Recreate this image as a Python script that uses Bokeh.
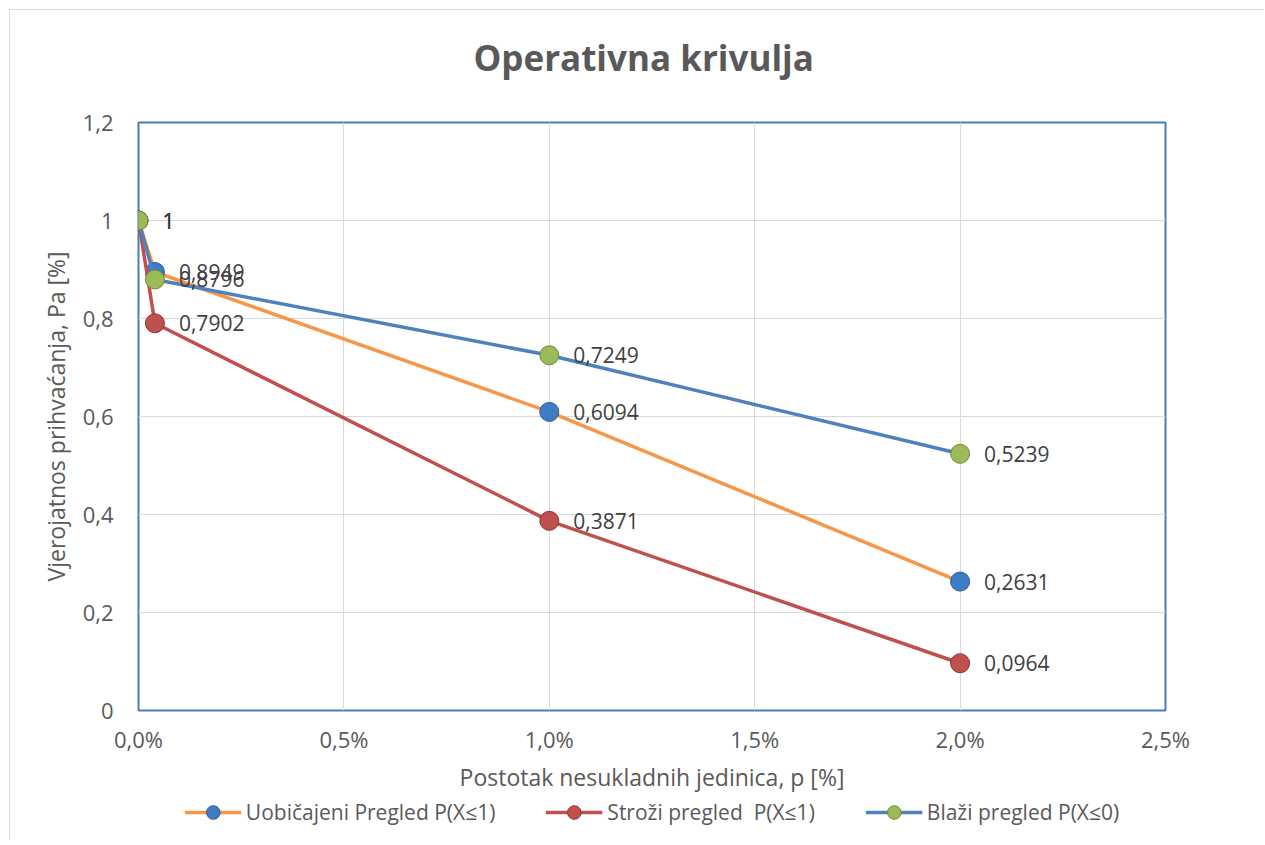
from bokeh.plotting import figure
from bokeh.layouts import column
from bokeh.models import (ColumnDataSource, CustomJSTickFormatter, FixedTicker,
                          Legend, LegendItem, Range1d, Label)
from bokeh.core.properties import value
from bokeh.embed import file_html
from bokeh.resources import INLINE

# ---- data ----
p_values = [0.0, 0.0004, 0.01, 0.02]          # fraction nonconforming
uobicajeni = [1.0, 0.8949, 0.6094, 0.2631]    # Uobičajeni Pregled P(X≤1)
strozi = [1.0, 0.7902, 0.3871, 0.0964]        # Stroži pregled P(X≤1)
blazi = [1.0, 0.8796, 0.7249, 0.5239]         # Blaži pregled P(X≤0)
series_names = ["Uobičajeni Pregled P(X≤1)", "Stroži pregled  P(X≤1)", "Blaži pregled P(X≤0)"]
x_ticks = [0.0, 0.005, 0.01, 0.015, 0.02, 0.025]
y_ticks = [0.0, 0.2, 0.4, 0.6, 0.8, 1.0, 1.2]
title_text = "Operativna krivulja"

FONT = "Open Sans"
TXT = "#595959"

def fmt(v):
    return "1" if v == 1.0 else f"{v:.4f}".replace(".", ",")

W = 1254

def strip(h, left=0):
    f = figure(width=W, height=h, output_backend="svg", toolbar_location=None,
               x_range=Range1d(0, W), y_range=Range1d(0, h),
               min_border_left=left, min_border_right=0, min_border_top=0,
               min_border_bottom=0)
    f.axis.visible = False
    f.grid.visible = False
    f.outline_line_color = None
    return f

# ---- title strip ----
p0 = strip(80)
p0.add_layout(Label(x=409, y=33, text=title_text, text_font=FONT,
                    text_font_size="35px", text_font_style="bold",
                    text_color=TXT, text_baseline="middle", text_align="left"))

# ---- main chart ----
p = figure(width=W, height=705, output_backend="svg", toolbar_location=None,
           x_range=Range1d(0, 0.025), y_range=Range1d(0, 1.2),
           min_border_left=128, min_border_right=99, min_border_top=32,
           min_border_bottom=85)

p.outline_line_color = "#4a7ebb"
p.outline_line_width = 2
p.outline_line_alpha = 1.0

p.grid.grid_line_color = "#d9d9d9"
p.grid.grid_line_width = 1
p.xaxis.ticker = FixedTicker(ticks=x_ticks)
p.yaxis.ticker = FixedTicker(ticks=y_ticks)
p.xaxis.formatter = CustomJSTickFormatter(
    code="return (tick*100).toFixed(1).replace('.', ',') + '%';")
p.yaxis.formatter = CustomJSTickFormatter(
    code="return parseFloat(tick.toFixed(1)).toString().replace('.', ',');")

for ax in (p.xaxis, p.yaxis):
    ax.axis_line_color = None
    ax.major_tick_line_color = None
    ax.minor_tick_line_color = None
    ax.major_label_text_font = FONT
    ax.major_label_text_font_size = "22px"
    ax.major_label_text_color = TXT
    ax.axis_label_text_font = FONT
    ax.axis_label_text_font_size = "23px"
    ax.axis_label_text_color = TXT
    ax.axis_label_text_font_style = "normal"
p.xaxis.major_label_standoff = 7
p.yaxis.major_label_standoff = 19
p.xaxis.axis_label = "Postotak nesukladnih jedinica, p [%]"
p.yaxis.axis_label = "Vjerojatnos prihvaćanja, Pa [%]"
p.xaxis.axis_label_standoff = 4
p.yaxis.axis_label_standoff = 8

specs = [
    (uobicajeni, "#f79646", "#3f7cc6", "#2c5a92"),
    (strozi, "#c0504d", "#c0504d", "#8c3331"),
    (blazi, "#4f81bd", "#9bbb59", "#6f8a3a"),
]

for vals, lcol, mcol, mline in specs:
    src = ColumnDataSource(dict(x=p_values, y=vals))
    p.line("x", "y", source=src, line_color=lcol, line_width=3.5)
    p.scatter("x", "y", source=src, size=19, fill_color=mcol,
              line_color=mline, line_width=1)

for vals, _, _, _ in specs:
    src = ColumnDataSource(dict(x=p_values, y=vals, lab=[fmt(v) for v in vals]))
    p.text("x", "y", text="lab", source=src, x_offset=24, text_baseline="middle",
           text_font_size="21px", text_color="#404040", text_font=value(FONT))

# ---- legend strip: ranges exclude the data, so only the legend shows ----
p2 = strip(45, left=24)
p2.x_range = Range1d(10, 11)
p2.y_range = Range1d(10, 11)
items = []
for (vals, lcol, mcol, mline), name in zip(specs, series_names):
    src = ColumnDataSource(dict(x=p_values, y=vals))
    ln = p2.line("x", "y", source=src, line_color=lcol, line_width=3.5)
    sc = p2.scatter("x", "y", source=src, size=19, fill_color=mcol,
                    line_color=mline, line_width=1)
    items.append(LegendItem(label=name, renderers=[ln, sc]))
legend = Legend(items=items, orientation="horizontal", location="top_center",
                label_text_font=FONT, label_text_font_size="21px",
                label_text_color=TXT, border_line_color=None,
                background_fill_alpha=0, label_standoff=5,
                glyph_width=57, glyph_height=34, spacing=50, padding=0, margin=0)
p2.add_layout(legend, "center")

layout = column(p0, p, p2, spacing=0)
layout.margin = (9, 0, 0, 9)
layout.styles = {"border-top": "1px solid #d9d9d9", "border-left": "1px solid #d9d9d9"}

open("out.html", "w").write(file_html(layout, INLINE))
